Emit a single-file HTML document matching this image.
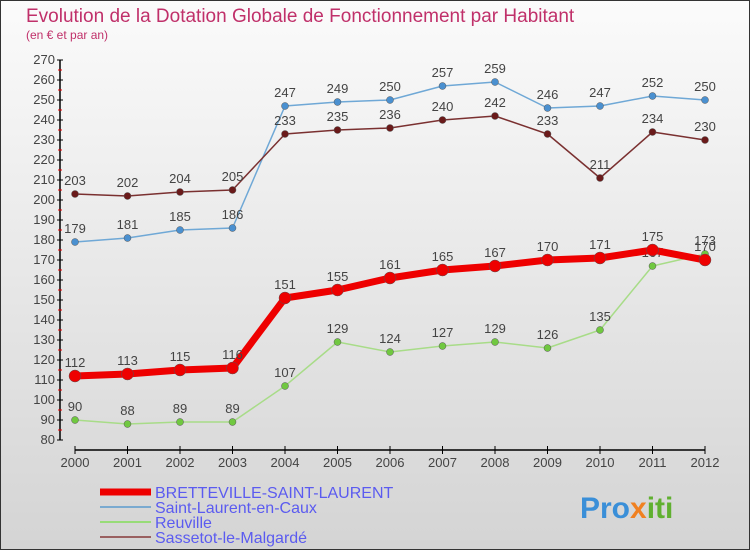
<!DOCTYPE html>
<html><head><meta charset="utf-8"><style>
body{margin:0}
#c{width:750px;height:550px;position:relative;font-family:"Liberation Sans",sans-serif;overflow:hidden}
</style></head><body>
<div id="c">
<svg id="s" width="750" height="550" xmlns="http://www.w3.org/2000/svg">
<defs><linearGradient id="bg" x1="0" y1="0" x2="0" y2="1"><stop offset="0" stop-color="#fbfbfb"/><stop offset="1" stop-color="#d4d4d4"/></linearGradient></defs>
<rect x="0.5" y="0.5" width="749" height="549" fill="url(#bg)" stroke="#333"/>
<text x="26" y="22" font-size="19" fill="#c0306a">Evolution de la Dotation Globale de Fonctionnement par Habitant</text>
<text x="26" y="39" font-size="12" fill="#c0306a">(en € et par an)</text>
<g id="axes"></g><g id="series"></g><g id="legend"></g>
<text x="580" y="518" font-size="30" font-weight="bold" fill="#3a8fd8">Pro<tspan fill="#f08020">x</tspan><tspan fill="#60b030">iti</tspan></text>
</svg></div>
<script>
const years=[2000,2001,2002,2003,2004,2005,2006,2007,2008,2009,2010,2011,2012];
const yTicks=[80,90,100,110,120,130,140,150,160,170,180,190,200,210,220,230,240,250,260,270];
const bsl=[112,113,115,116,151,155,161,165,167,170,171,175,170];
const slc=[179,181,185,186,247,249,250,257,259,246,247,252,250];
const reu=[90,88,89,89,107,129,124,127,129,126,135,167,173];
const sas=[203,202,204,205,233,235,236,240,242,233,211,234,230];
const names=["BRETTEVILLE-SAINT-LAURENT","Saint-Laurent-en-Caux","Reuville","Sassetot-le-Malgardé"];
const NS="http://www.w3.org/2000/svg";
const X=i=>75+i*52.5, Y=v=>440-(v-80)*2;
function mk(p,t,a){const e=document.createElementNS(NS,t);for(const k in a)e.setAttribute(k,a[k]);p.appendChild(e);return e;}
const ax=document.getElementById('axes');
let l=mk(ax,'line',{x1:60,y1:60,x2:60,y2:440,stroke:'#000','stroke-width':1.5});

yTicks.forEach(v=>{mk(ax,'line',{x1:57,x2:63,y1:Y(v),y2:Y(v),stroke:'#000'});
 if(v<270)mk(ax,'line',{x1:58,x2:62,y1:Y(v+5),y2:Y(v+5),stroke:'#e00'});
 const t=mk(ax,'text',{x:55,y:Y(v)+4,'text-anchor':'end','font-size':13,fill:'#444'});t.textContent=v;
 });
l=mk(ax,'line',{x1:75,y1:450,x2:705,y2:450,stroke:'#000','stroke-width':1.5});

years.forEach((y,i)=>{mk(ax,'line',{x1:X(i),x2:X(i),y1:446,y2:454,stroke:'#000'});
 const t=mk(ax,'text',{x:X(i),y:467,'text-anchor':'middle','font-size':13,fill:'#444'});t.textContent=y;
 });
const sg=document.getElementById('series');
function draw(d,col,w,r,name,dot){
 const g=mk(sg,'g',{});
 mk(g,'polyline',{points:d.map((v,i)=>X(i)+','+Y(v)).join(' '),fill:'none',stroke:col,'stroke-width':w,'stroke-linejoin':'round'});
 d.forEach((v,i)=>{const c=mk(g,'circle',{cx:X(i),cy:Y(v),r:r,fill:dot,stroke:'#555','stroke-width':0.5});
  
  const t=mk(g,'text',{x:X(i),y:Y(v)-9,'text-anchor':'middle','font-size':13,fill:'#444'});t.textContent=v;
  });
}
draw(slc,'#6fa8d6',1.5,3.5,'series-saint-laurent','#4a90d0');
draw(sas,'#7a3030',1.5,3.5,'series-sassetot','#6a1a1a');
draw(reu,'#a8dc88',1.5,3.5,'series-reuville','#70c840');
draw(bsl,'#ee0000',7,6,'series-bretteville','#ee0000');
const lg=document.getElementById('legend');
const cols=['#ee0000','#7aaad0','#98dc78','#9a6060'],ws=[7,2,2,2];
names.forEach((n,i)=>{const y=492+i*15;
 const g=mk(lg,'g',{});
 mk(g,'line',{x1:100,x2:151,y1:y,y2:y,stroke:cols[i],'stroke-width':ws[i]});
 const t=mk(g,'text',{x:155,y:y+6,'font-size':16,fill:'#5b5bf0'});t.textContent=n;});
</script></body></html>
